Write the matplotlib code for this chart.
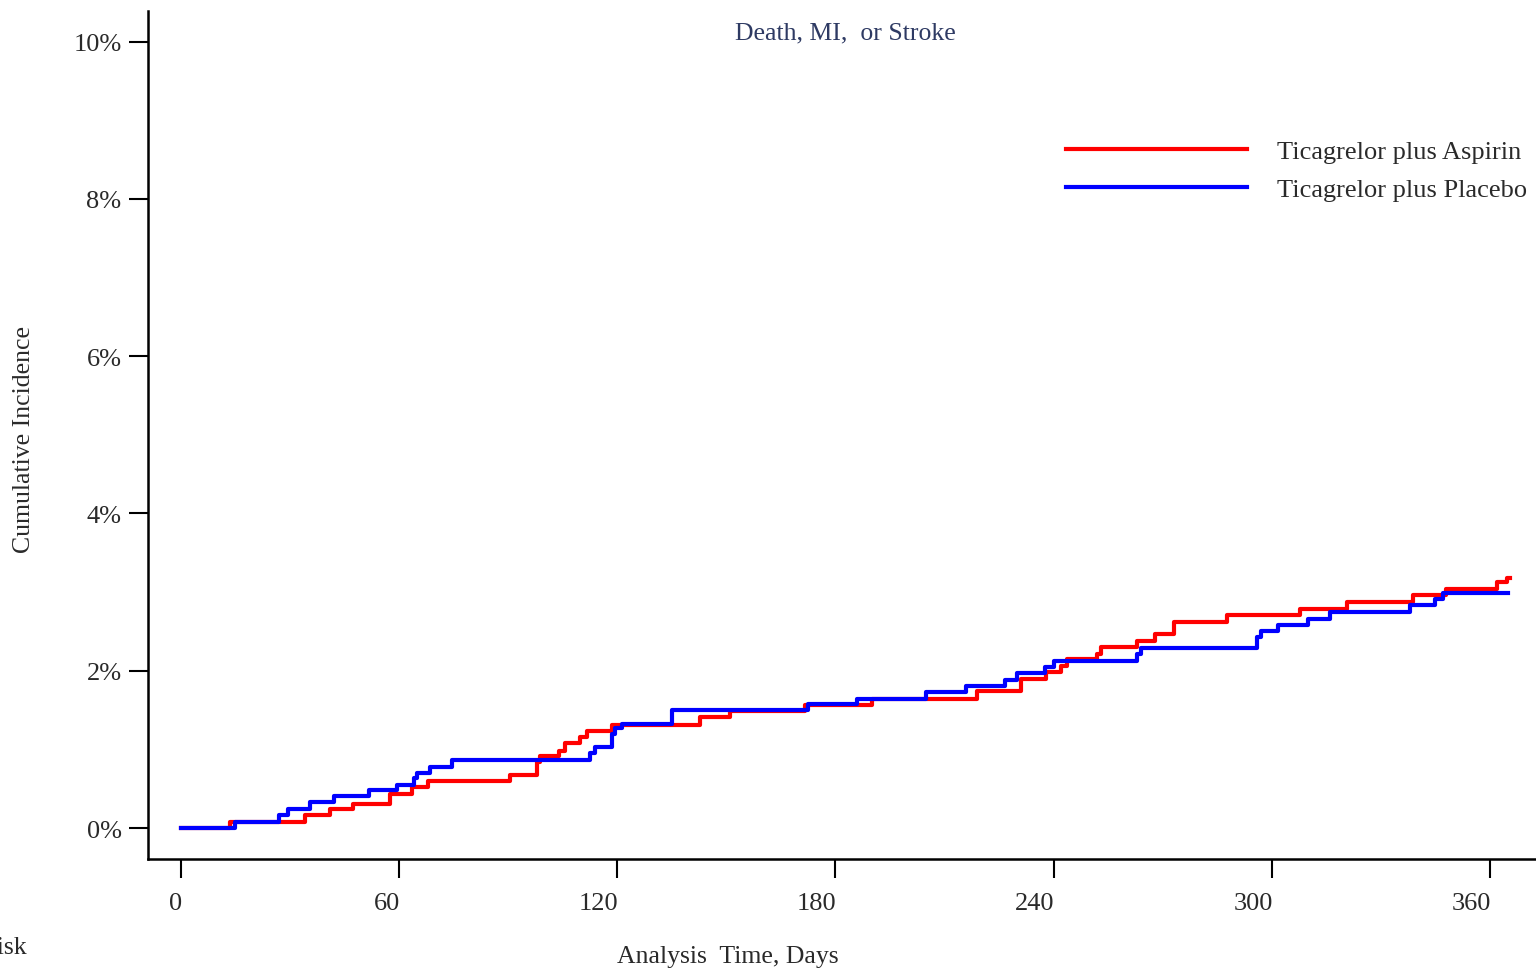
import numpy as np
import matplotlib
matplotlib.use("Agg")
import matplotlib.pyplot as plt
import matplotlib.transforms as mtransforms

# Kaplan-Meier style cumulative incidence (%)
aspirin_days = [0, 13.5, 34, 41, 47.4, 57.5, 63.5, 68, 90.5, 98, 98.8, 104, 105.6,
                109.7, 111.6, 118.5, 142.7, 151, 171.6, 190, 219, 231, 238, 242,
                243.6, 252, 253, 263, 268, 273, 287.7, 307.8, 320.7, 338.8, 348,
                362, 364.7, 365.5]
aspirin_inc = [0, 0.08, 0.17, 0.24, 0.31, 0.43, 0.52, 0.60, 0.67, 0.84, 0.92, 0.98,
               1.08, 1.16, 1.23, 1.31, 1.41, 1.49, 1.57, 1.64, 1.74, 1.89, 1.98,
               2.06, 2.15, 2.21, 2.30, 2.38, 2.47, 2.62, 2.71, 2.79, 2.88, 2.96,
               3.04, 3.13, 3.18, 3.18]

placebo_days = [0, 14.8, 27, 29.5, 35.5, 42, 51.7, 59.3, 64, 65, 68.5, 74.5, 112.5,
                113.9, 118.5, 119.4, 121.3, 135, 172.5, 186, 205, 216, 226.6, 230,
                237.6, 240, 263, 264, 296, 297, 301.7, 310, 316, 338, 345, 347, 365]
placebo_inc = [0, 0.08, 0.16, 0.24, 0.33, 0.41, 0.48, 0.55, 0.64, 0.70, 0.78, 0.86,
               0.95, 1.03, 1.20, 1.27, 1.32, 1.50, 1.58, 1.64, 1.73, 1.80, 1.88,
               1.97, 2.05, 2.12, 2.21, 2.29, 2.43, 2.51, 2.58, 2.66, 2.75, 2.83,
               2.91, 2.99, 2.99]

x_ticks = [0, 60, 120, 180, 240, 300, 360]
y_ticks = [0, 2, 4, 6, 8, 10]
y_labels = ["0%", "2%", "4%", "6%", "8%", "10%"]

plt.rcParams['font.family'] = ['Liberation Serif', 'DejaVu Serif']
txt = '#2a2a2a'

fig = plt.figure(figsize=(15.36, 9.70), dpi=100)
ax = fig.add_axes([148/1536, 110/970, 1 - 148/1536, 848/970])

ax.step(aspirin_days, aspirin_inc, where='post', color='#ff0000', lw=3,
        label='Ticagrelor plus Aspirin', zorder=3)
ax.step(placebo_days, placebo_inc, where='post', color='#0000ff', lw=3,
        label='Ticagrelor plus Placebo', zorder=4)

ax.set_xlim(-9.1, 372.7)
ax.set_ylim(-0.394, 10.39)
ax.set_xticks(x_ticks)
ax.set_yticks(y_ticks)
ax.set_yticklabels(y_labels)

for s in ['top', 'right']:
    ax.spines[s].set_visible(False)
for s in ['left', 'bottom']:
    ax.spines[s].set_linewidth(1.8)

ax.tick_params(axis='both', direction='out', length=14, width=1.5,
               labelsize=19, labelcolor=txt)
ax.tick_params(axis='x', pad=10)
ax.tick_params(axis='y', pad=5)

# x tick labels end at their tick in the original
shift = mtransforms.ScaledTranslation(0.01, 0, fig.dpi_scale_trans)
for lab in ax.get_xticklabels():
    lab.set_horizontalalignment('right')
    lab.set_transform(lab.get_transform() + shift)

fig.text(845/1536, 1 - 33/970, 'Death, MI,  or Stroke', ha='center', va='center',
         fontsize=18.5, color='#2e3a63')
fig.text(24/1536, 1 - 440/970, 'Cumulative Incidence', rotation=90,
         ha='center', va='center', fontsize=18.5, color=txt)
fig.text(728/1536, 1 - 957/970, 'Analysis  Time, Days', ha='center', va='center',
         fontsize=18.5, color=txt)
fig.text(27/1536, 1 - 948/970, 'Number at risk', ha='right', va='center',
         fontsize=18.5, color=txt)

leg = ax.legend(loc='upper left', bbox_to_anchor=(1066/1536, 1 - 141/970),
                bbox_transform=fig.transFigure, frameon=False, fontsize=19,
                handlelength=6.85, handletextpad=1.14, labelspacing=0.53,
                borderpad=0, borderaxespad=0)
for t in leg.get_texts():
    t.set_color(txt)

fig.savefig('out.png', dpi=100)
